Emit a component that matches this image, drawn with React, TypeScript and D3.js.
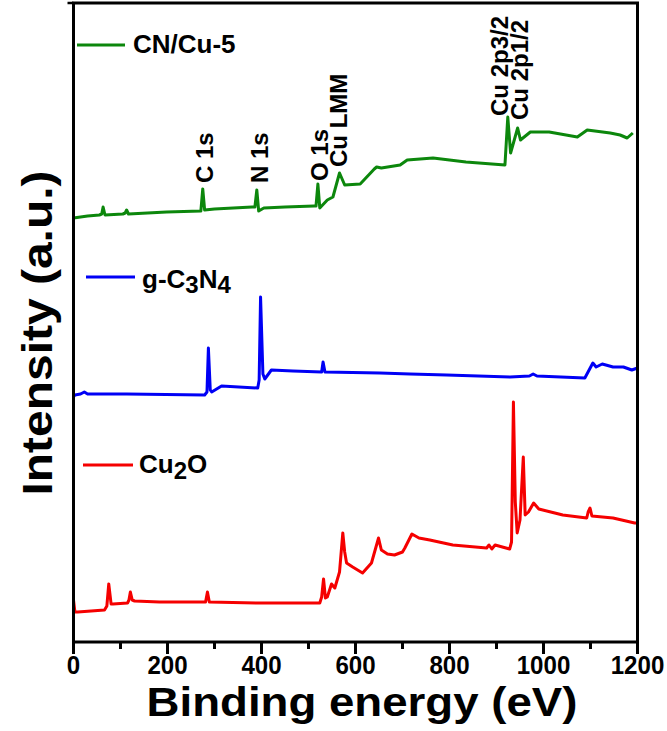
import React from "react";
import * as d3 from "d3";

// XPS survey spectra (binding energy eV, intensity a.u.)
const cnCu5: [number, number][] = [
  [0, 424], [30, 426], [55, 427], [60, 428], [63, 435], [67, 427], [105, 428], [110, 429], [113, 432], [117, 428],
  [198, 430], [271, 431], [275, 453], [279, 432], [300, 433], [380, 435], [386, 435], [390, 452], [394, 431],
  [405, 434], [450, 435], [512, 436], [516, 436], [520, 458], [524, 434], [540, 442], [552, 445], [566, 469],
  [577, 457], [610, 458], [640, 473], [645, 475], [655, 474], [695, 477], [710, 482], [765, 484], [835, 480],
  [918, 477], [924, 525], [930, 489], [945, 514], [951, 502], [972, 510], [1012, 510], [1072, 505], [1093, 512],
  [1142, 509], [1163, 507], [1178, 504], [1190, 509],
];

const gC3N4: [number, number][] = [
  [0, 245], [3, 247], [15, 248], [23, 250], [30, 248], [113, 248], [279, 247], [284, 250], [287, 294], [291, 252],
  [294, 250], [315, 256], [392, 254], [395, 262], [398, 345], [403, 268], [407, 263], [421, 272], [467, 271],
  [528, 270], [531, 280], [535, 270], [652, 269], [716, 268], [794, 267], [929, 265], [970, 266], [978, 268],
  [986, 266], [1088, 264], [1105, 279], [1112, 275], [1125, 278], [1148, 275], [1170, 275], [1188, 272], [1200, 274],
];

const cu2O: [number, number][] = [
  [0, 42], [3, 30], [9, 30], [66, 32], [71, 36], [75, 58], [80, 38], [84, 38], [115, 39], [118, 42], [121, 50],
  [125, 42], [130, 41], [183, 40], [281, 40], [285, 50], [289, 40], [396, 39], [524, 39], [528, 45], [532, 63],
  [536, 44], [540, 45], [549, 58], [556, 54], [566, 70], [573, 109], [577, 90], [581, 79], [594, 75], [615, 69],
  [634, 79], [649, 104], [655, 92], [668, 88], [683, 87], [700, 90], [705, 94], [720, 108], [735, 104], [758, 102],
  [807, 97], [879, 94], [884, 97], [890, 93], [897, 97], [928, 93], [932, 100], [936, 240], [940, 140], [944, 109],
  [950, 122], [957, 185], [961, 127], [968, 130], [979, 139], [990, 133], [1041, 127], [1092, 124], [1095, 130],
  [1099, 134], [1103, 126], [1148, 124], [1194, 119], [1200, 119],
];

const peakNames = ["C 1s", "N 1s", "O 1s", "Cu LMM", "Cu 2p3/2", "Cu 2p1/2"];
const peakEnergies = [285, 399, 531, 570, 932, 952];

const xTicks = [0, 200, 400, 600, 800, 1000, 1200];

const W = 667;
const H = 731;
const font = "'Liberation Sans', Arial, Helvetica, sans-serif";

export default function App() {
  const x = d3.scaleLinear().domain([0, 1200]).range([73.5, 637.5]);
  const y = d3.scaleLinear().domain([0, 640]).range([642, 2]);
  const line = d3
    .line<[number, number]>()
    .x((d) => x(d[0]))
    .y((d) => y(d[1]));

  const series = [
    { data: cnCu5, color: "#0c870c" },
    { data: gC3N4, color: "#0000f5" },
    { data: cu2O, color: "#f50000" },
  ];

  // label placement: offset from peak position, bottom of rotated text
  const labelPos = [
    { dx: 6, y: 183 },
    { dx: 7, y: 183 },
    { dx: 5, y: 181 },
    { dx: 6, y: 167 },
    { dx: -4, y: 116 },
    { dx: 7, y: 120 },
  ];

  const minor = d3.range(100, 1200, 200);

  return (
    <svg
      width={W}
      height={H}
      style={{ position: "absolute", left: 0, top: 0, background: "#fff" }}
      fontFamily={font}
      fontWeight="bold"
    >
      {series.map((s, i) => (
        <path
          key={i}
          d={line(s.data) || ""}
          fill="none"
          stroke={s.color}
          strokeWidth={3}
          strokeLinejoin="round"
        />
      ))}

      {/* frame */}
      <rect x={x(0)} y={3} width={x(1200) - x(0)} height={639} fill="none" stroke="#000" strokeWidth={3} />
      <line x1={x(0) - 6} x2={x(0)} y1={3} y2={3} stroke="#000" strokeWidth={2.5} />

      {/* x ticks */}
      {xTicks.map((t) => (
        <g key={t}>
          <line x1={x(t)} x2={x(t)} y1={642} y2={654} stroke="#000" strokeWidth={3} />
          <text
            x={x(t)}
            y={674}
            textAnchor="middle"
            fontSize={25}
            textLength={String(t).length * 13.4}
            lengthAdjust="spacingAndGlyphs"
          >
            {t}
          </text>
        </g>
      ))}
      {minor.map((t) => (
        <line key={t} x1={x(t)} x2={x(t)} y1={642} y2={649} stroke="#000" strokeWidth={3} />
      ))}

      {/* axis titles */}
      <text x={362} y={716} textAnchor="middle" fontSize={40} textLength={431} lengthAdjust="spacingAndGlyphs">
        Binding energy (eV)
      </text>
      <text
        transform="translate(52,333) rotate(-90)"
        textAnchor="middle"
        fontSize={42}
        textLength={325}
        lengthAdjust="spacingAndGlyphs"
      >
        Intensity (a.u.)
      </text>

      {/* peak labels */}
      {peakNames.map((n, i) => (
        <text
          key={n}
          transform={`translate(${x(peakEnergies[i]) + labelPos[i].dx},${labelPos[i].y}) rotate(-90)`}
          fontSize={24}
        >
          {n}
        </text>
      ))}

      {/* legends */}
      <line x1={77} x2={125} y1={45} y2={45} stroke={series[0].color} strokeWidth={3} />
      <text x={133} y={53} fontSize={26}>
        CN/Cu-5
      </text>

      <line x1={86} x2={135} y1={277} y2={277} stroke={series[1].color} strokeWidth={3} />
      <text x={142} y={288} fontSize={26}>
        g-C<tspan fontSize={24} dy={5}>3</tspan>
        <tspan dy={-5}>N</tspan>
        <tspan fontSize={24} dy={5}>4</tspan>
      </text>

      <line x1={83} x2={133} y1={465} y2={465} stroke={series[2].color} strokeWidth={3} />
      <text x={139} y={473} fontSize={26}>
        Cu<tspan fontSize={24} dy={6}>2</tspan>
        <tspan dy={-6}>O</tspan>
      </text>
    </svg>
  );
}
